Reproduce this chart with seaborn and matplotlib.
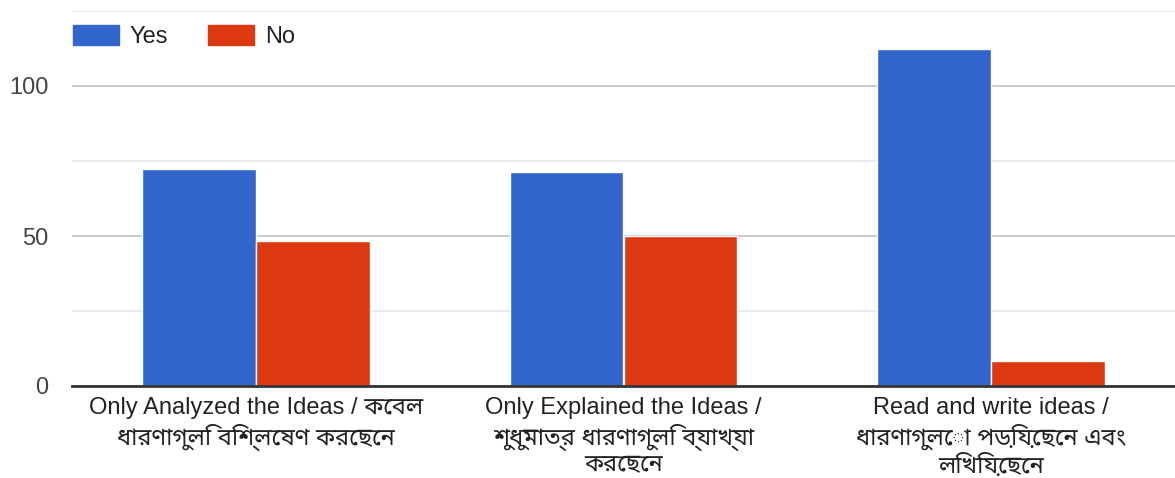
import pandas as pd
import matplotlib
matplotlib.use('Agg')
import matplotlib.pyplot as plt
import seaborn as sns
from matplotlib.ticker import MultipleLocator

categories = [
    'Only Analyzed the Ideas / কেবল\nধারণাগুলি বিশ্লেষণ করেছেন',
    'Only Explained the Ideas /\nশুধুমাত্র ধারণাগুলি ব্যাখ্যা\nকরেছেন',
    'Read and write ideas /\nধারণাগুলো পড়িয়েছেন এবং\nলিখিয়েছেন',
]
yes_counts = [72.5, 71.5, 112.5]
no_counts = [48.5, 50, 8.5]
series = ['Yes', 'No']
colors = ['#3366cc', '#dc3912']

df = pd.DataFrame({
    'category': categories * 2,
    'answer': ['Yes'] * 3 + ['No'] * 3,
    'count': yes_counts + no_counts,
})

sns.set_style('white')
plt.rcParams['font.family'] = ['Liberation Sans', 'Noto Sans Bengali', 'Noto Sans', 'DejaVu Sans']

fig = plt.figure(figsize=(11.75, 4.78), dpi=100)
ax = fig.add_axes([72 / 1175, 1 - 386 / 478, 1 - 72 / 1175, (386 - 11) / 478])

sns.barplot(data=df, x='category', y='count', hue='answer', hue_order=series,
            palette=colors, width=0.62, edgecolor='white', linewidth=1,
            saturation=1, ax=ax, legend=False)

ax.set_ylim(0, 125)
ax.set_xlim(-0.5, 2.5)
ax.yaxis.set_major_locator(MultipleLocator(50))
ax.yaxis.set_minor_locator(MultipleLocator(25))
ax.grid(True, which='major', axis='y', color='#cccccc', linewidth=1.5)
ax.grid(True, which='minor', axis='y', color='#ebebeb', linewidth=1.5)
ax.set_axisbelow(True)
for s in ['top', 'right', 'left']:
    ax.spines[s].set_visible(False)
ax.spines['bottom'].set_color('#333333')
ax.spines['bottom'].set_linewidth(2)
ax.tick_params(axis='y', which='both', length=0, pad=17, labelsize=17, labelcolor='#444444')
ax.tick_params(axis='x', length=0, pad=8, labelsize=17, labelcolor='#222222')
for t in ax.get_xticklabels():
    t.set_linespacing(1.2)
ax.set_xlabel('')
ax.set_ylabel('')

handles = [plt.Rectangle((0, 0), 1, 1, color=c) for c in colors]
fig.legend(handles, series, loc='upper left', bbox_to_anchor=(73 / 1175, 1 - 25 / 478),
           ncol=2, frameon=False, borderpad=0, borderaxespad=0, fontsize=17,
           handlelength=1.95, handleheight=0.9, handletextpad=0.45, columnspacing=1.7,
           labelcolor='#222222')

fig.savefig('out.png', dpi=100)
